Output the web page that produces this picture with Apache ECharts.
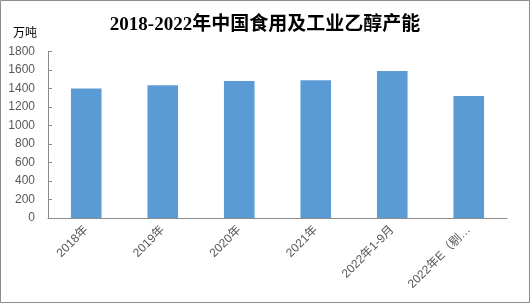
<!DOCTYPE html>
<html><head><meta charset="utf-8">
<script src="https://cdn.jsdelivr.net/npm/echarts@6/dist/echarts.min.js"></script>
<style>html,body{margin:0;padding:0;background:#fff}#c{width:530px;height:303px}</style>
</head><body><div id="c"></div>
<script>
const categories = ['2018年','2019年','2020年','2021年','2022年1-9月','2022年E（剔…'];
const capacity = [1400, 1435, 1480, 1490, 1590, 1320];
const yTicks = {min: 0, max: 1800, interval: 200};
const titleText = '2018-2022年中国食用及工业乙醇产能';
const unitText = '万吨';

const chart = echarts.init(document.getElementById('c'), null, {renderer: 'canvas'});
chart.setOption({
  animation: false,
  backgroundColor: '#fff',
  title: {
    text: titleText, left: 'center', top: 11,
    textStyle: {fontFamily: '"Liberation Serif","Noto Sans CJK SC"', fontWeight: 'bold', fontSize: 19, color: '#000'}
  },
  graphic: [
    {type: 'rect', shape: {x: 0.5, y: 0.5, width: 529, height: 302}, style: {fill: 'none', stroke: '#8c8c8c', lineWidth: 1}, silent: true},
    {type: 'text', left: 13, top: 26, style: {text: unitText, fontSize: 12, fill: '#000', fontFamily: '"Noto Sans CJK SC"'}}
  ],
  grid: {left: 48, right: 23, top: 51.5, bottom: 85, containLabel: false},
  xAxis: {
    type: 'category', data: categories,
    axisLine: {lineStyle: {color: '#8c8c8c'}},
    axisTick: {inside: true, length: 5, lineStyle: {color: '#8c8c8c'}},
    axisLabel: {rotate: 45, color: '#595959', fontSize: 12, margin: 10, interval: 0, fontFamily: '"Liberation Sans","Noto Sans CJK SC"'}
  },
  yAxis: {
    type: 'value', min: yTicks.min, max: yTicks.max, interval: yTicks.interval,
    axisLine: {show: true, lineStyle: {color: '#8c8c8c'}},
    axisTick: {show: true, inside: true, length: 4, lineStyle: {color: '#8c8c8c'}},
    splitLine: {show: false},
    axisLabel: {color: '#595959', fontSize: 12, margin: 13, fontFamily: '"Liberation Sans"', formatter: v => String(v)}
  },
  series: [{
    type: 'bar', data: capacity, barWidth: '40%',
    itemStyle: {color: '#5b9bd5'}
  }]
});
</script></body></html>
